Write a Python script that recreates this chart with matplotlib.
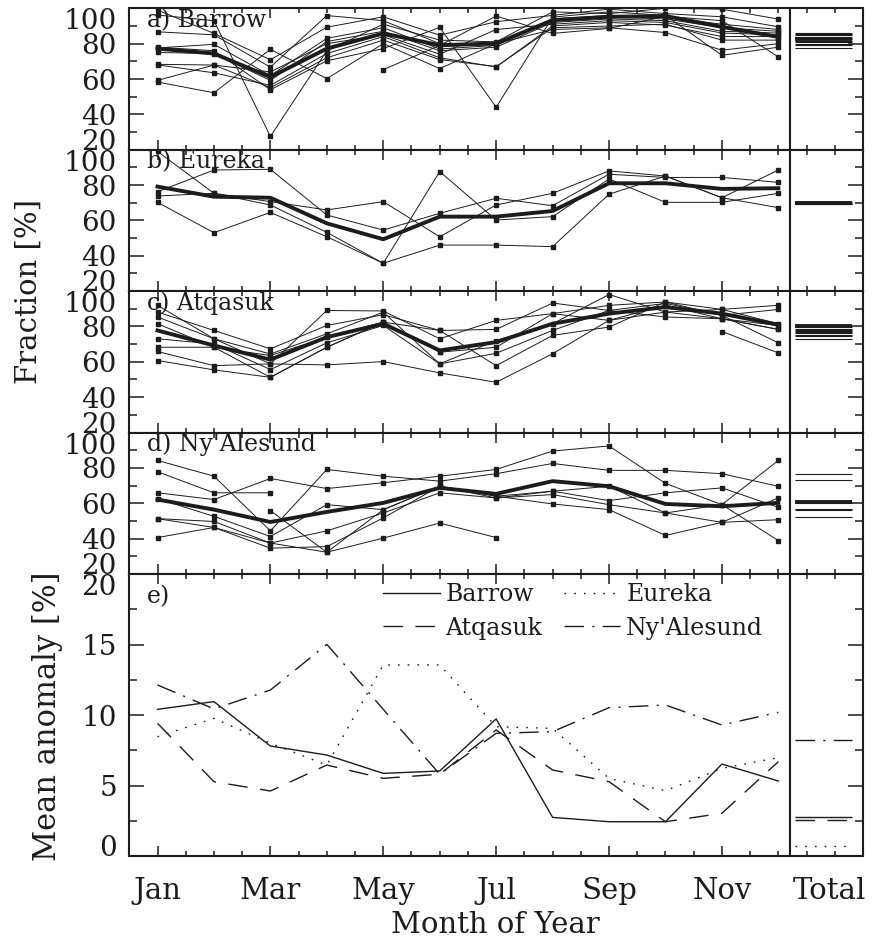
"""Monthly cloud fraction per station and mean anomalies, with annual totals."""

import numpy as np
from matplotlib import pyplot as plt
from matplotlib.ticker import FixedLocator, MultipleLocator

plt.rcParams['font.family'] = 'DejaVu Serif'

nan = np.nan
months = np.arange(1, 13)
month_ticks = [1, 3, 5, 7, 9, 11]
month_labels = ['Jan', 'Mar', 'May', 'Jul', 'Sep', 'Nov']
fraction_ticks = [20, 40, 60, 80, 100]
anomaly_ticks = [0, 5, 10, 15, 20]

# a) Barrow, single years and multi-year mean [%]
barrow_years = [
    [99.0, 85.8, 70.9, 89.3, 95.2, 84.8, 92.4, 96.0, 99.5, 97.0, 95.2, 89.5],
    [96.2, 93.0, 27.5, 76.0, 91.0, 82.0, 81.0, 98.0, 97.0, 100.0, 99.5, 93.9],
    [86.7, 85.0, 66.7, 95.9, 93.0, 80.0, 80.0, 94.0, 96.0, 95.0, 91.0, 88.0],
    [77.6, 79.6, 62.0, 83.0, 89.0, 77.0, 79.0, 93.0, 95.0, 94.0, 89.0, 87.0],
    [75.0, 74.4, 59.2, 81.2, 87.0, 76.0, 78.0, 92.0, 94.0, 93.0, 87.0, 86.0],
    [68.3, 67.9, 64.0, 80.0, 85.0, 74.0, 88.0, 91.0, 93.0, 92.0, 86.0, 85.0],
    [68.0, 63.5, 56.4, 74.4, 84.0, 72.0, 66.8, 90.0, 92.0, 90.5, 84.0, 84.0],
    [59.2, 67.9, 55.1, 72.0, 82.0, 71.0, 67.0, 89.0, 90.0, 91.0, 82.0, 82.0],
    [58.3, 52.2, 76.8, 60.2, 80.0, 65.9, 80.0, 88.0, 89.0, 86.3, 76.3, 80.0],
    [78.0, 76.0, 53.9, 70.3, 77.2, 89.2, 44.0, 95.0, 98.0, 96.0, 73.4, 78.0],
    [nan, nan, nan, nan, 65.3, 79.0, 95.6, 85.8, 88.6, 95.5, 93.0, 72.5],
]
barrow_mean = [77.2, 74.4, 61.1, 77.2, 85.8, 79.1, 80.1, 93.3, 95.2, 95.6, 89.5, 83.8]
barrow_total = [86.3, 85.5, 84.7, 83.9, 83.2, 82.4, 81.6, 80.8, 80.0, 79.0, 77.8]
barrow_total_mean = 82.5

# b) Eureka
eureka_years = [
    [99.0, 75.3, 70.6, 65.9, 70.6, 50.7, 68.7, 75.3, 88.0, 85.1, 72.8, 88.5],
    [76.2, 88.5, 88.9, 63.0, 54.5, 64.0, 72.5, 68.3, 86.1, 84.3, 84.3, 81.5],
    [73.8, 75.3, 68.7, 53.2, 35.7, 87.6, 60.2, 62.1, 83.4, 70.2, 70.2, 75.3],
    [70.2, 53.0, 64.5, 50.7, 35.7, 46.0, 46.0, 45.1, 74.8, 85.1, 72.8, 67.2],
]
eureka_mean = [79.1, 73.4, 72.8, 58.3, 49.3, 62.1, 62.1, 65.3, 81.0, 81.0, 77.8, 78.2]
eureka_total = [70.2, 69.9, 69.5, 69.2]
eureka_total_mean = 69.7

# c) Atqasuk
atqasuk_years = [
    [91.9, 73.0, 58.8, 89.0, 88.7, 73.0, 83.4, 87.2, 91.9, 93.8, 89.6, 91.9],
    [88.1, 77.7, 67.3, 80.5, 86.6, 77.7, 78.3, 93.2, 89.0, 93.0, 86.2, 89.6],
    [85.3, 73.0, 64.4, 75.8, 88.0, 58.8, 72.0, 81.5, 98.0, 88.1, 89.6, 81.5],
    [81.5, 68.2, 63.5, 73.9, 82.4, 65.4, 68.2, 87.2, 83.4, 92.0, 84.3, 80.5],
    [73.0, 70.0, 55.6, 70.7, 80.5, 58.8, 64.8, 77.7, 89.0, 85.3, 84.3, 78.3],
    [68.2, 68.2, 51.2, 68.2, 82.4, 77.7, 57.8, 74.9, 79.6, 93.8, 86.2, 70.7],
    [65.8, 57.8, 58.8, 58.2, 60.1, 53.7, 48.4, 64.5, 83.4, 88.1, 84.3, 78.3],
    [60.7, 55.4, 51.2, 68.2, 82.4, 65.4, nan, nan, nan, nan, 77.1, 65.0],
]
atqasuk_mean = [77.7, 69.2, 61.2, 73.9, 81.5, 66.4, 71.1, 81.5, 87.2, 90.9, 87.2, 80.9]
atqasuk_total = [79.4, 78.7, 78.0, 77.4, 76.8, 76.1, 75.3, 74.4, 73.1]
atqasuk_total_mean = 80.4

# d) Ny'Alesund
nyalesund_years = [
    [84.2, 75.3, 44.4, 79.1, 75.3, 72.5, 76.7, 82.5, 78.6, 78.6, 76.7, 69.6],
    [77.8, 65.9, 65.9, nan, nan, nan, nan, nan, nan, nan, nan, nan],
    [65.9, 62.1, 74.0, 68.3, 71.6, 75.3, 79.1, 89.5, 92.4, 71.2, 59.2, 84.2],
    [62.6, 52.6, 41.2, 59.2, 56.4, 69.6, 64.0, 66.8, 61.5, 65.9, 68.7, 57.7],
    [51.3, 49.7, 37.5, 44.4, 54.5, 65.9, 63.0, 64.9, 59.2, 54.5, 49.2, 63.0],
    [51.3, 46.3, 34.6, 35.5, 51.7, 69.6, 64.0, 59.6, 56.4, 41.8, 49.2, 50.7],
    [40.6, 46.3, 37.5, 32.3, 40.3, 48.8, 40.6, nan, nan, nan, nan, nan],
    [nan, nan, 55.8, 32.3, 56.4, 69.6, 63.0, 66.8, 69.6, 54.5, 59.2, 38.9],
]
nyalesund_mean = [62.1, 56.4, 49.4, 55.1, 60.2, 68.7, 65.3, 72.5, 69.6, 59.6, 58.3, 60.2]
nyalesund_total = [76.3, 73.4, 60.4, 56.8, 56.1, 52.2]
nyalesund_total_mean = 60.8

# e) mean anomaly [%]
anom_barrow = [10.4, 10.95, 7.8, 7.16, 5.86, 6.03, 9.72, 2.74, 2.43, 2.43, 6.52, 5.32]
anom_eureka = [8.46, 9.76, 8.0, 6.45, 13.55, 13.55, 9.17, 9.05, 5.5, 4.63, 6.22, 6.97]
anom_atqasuk = [9.41, 5.27, 4.61, 6.45, 5.51, 5.8, 8.94, 6.1, 5.27, 2.43, 3.03, 6.69]
anom_nyalesund = [12.13, 10.43, 11.77, 15.01, 10.4, 5.8, 8.7, 8.82, 10.52, 10.71, 9.29, 10.19]
anom_total = {'Barrow': 2.79, 'Eureka': 0.71, 'Atqasuk': 2.55, "Ny'Alesund": 8.23}

ink = '#1c1c1c'
W, H = 874, 941
x_left, x_right = 129.3, 863.0
rows = [8.3, 149.7, 291.0, 432.5, 574.0, 856.0]
x_split = 12.2
total_x = (12.3, 13.3)
total_tick = 12.9

fig = plt.figure(figsize=(W / 100, H / 100), dpi=100)


def make_axes(top, bottom):
    ax = fig.add_axes([x_left / W, 1 - bottom / H, (x_right - x_left) / W, (bottom - top) / H])
    ax.set_xlim(0.5, 13.5)
    ax.xaxis.set_major_locator(FixedLocator(month_ticks))
    ax.xaxis.set_minor_locator(MultipleLocator(0.5))
    ax.tick_params(which='both', direction='in', top=True, right=True, color=ink, width=1.1)
    ax.tick_params(axis='x', which='major', length=7)
    ax.tick_params(axis='x', which='minor', length=3.5)
    ax.tick_params(axis='y', which='major', length=10.5, labelsize=20, pad=9, labelcolor=ink)
    ax.tick_params(axis='y', which='minor', length=5.5)
    for spine in ax.spines.values():
        spine.set_linewidth(1.5)
        spine.set_color(ink)
    ax.axvline(x_split, color=ink, lw=1.5)
    return ax


def nudge_end_labels(ax):
    labels = ax.get_yticklabels()
    labels[0].set_va('baseline')
    labels[-1].set_va('top')


stations = [
    ('a) Barrow', barrow_years, barrow_mean, barrow_total, barrow_total_mean),
    ('b) Eureka', eureka_years, eureka_mean, eureka_total, eureka_total_mean),
    ('c) Atqasuk', atqasuk_years, atqasuk_mean, atqasuk_total, atqasuk_total_mean),
    ("d) Ny'Alesund", nyalesund_years, nyalesund_mean, nyalesund_total, nyalesund_total_mean),
]

for i, (name, years, mean, total, total_mean) in enumerate(stations):
    ax = make_axes(rows[i], rows[i + 1])
    for year in years:
        ax.plot(months, year, color=ink, lw=0.7, marker='s', ms=2.2)
    ax.plot(months, mean, color=ink, lw=2.8)
    ax.hlines(total, *total_x, color=ink, lw=0.8)
    ax.hlines(total_mean, *total_x, color=ink, lw=2.8)
    ax.set_ylim(20, 100)
    ax.set_yticks(fraction_ticks, [str(t) for t in fraction_ticks])
    ax.yaxis.set_minor_locator(MultipleLocator(10))
    ax.set_xticklabels([])
    nudge_end_labels(ax)
    ax.text(0.82, 0.867 * 80 + 20, name, fontsize=17, color=ink, va='baseline')

# e) anomalies
ax = make_axes(rows[4], rows[5])
styles = {
    'Barrow': (anom_barrow, '-'),
    'Eureka': (anom_eureka, (0, (1.2, 5.8))),
    'Atqasuk': (anom_atqasuk, (0, (14, 9))),
    "Ny'Alesund": (anom_nyalesund, (0, (14, 6, 1.5, 6))),
}
for label in ['Barrow', 'Atqasuk', 'Eureka', "Ny'Alesund"]:
    values, ls = styles[label]
    ax.plot(months, values, color=ink, lw=1.0, ls=ls, label=label)
    ax.hlines(anom_total[label], *total_x, color=ink, lw=1.0, ls=ls)
ax.set_ylim(0, 20)
ax.set_yticks(anomaly_ticks, [str(t) for t in anomaly_ticks])
ax.yaxis.set_minor_locator(MultipleLocator(2.5))
nudge_end_labels(ax)

# month names plus the annual "Total" column, which carries no tick mark
ax.set_xticks(month_ticks + [total_tick], month_labels + ['Total'])
ax.tick_params(axis='x', labelsize=21, pad=15, labelcolor=ink)
total_tick_obj = ax.xaxis.get_major_ticks()[-1]
total_tick_obj.tick1line.set_visible(False)
total_tick_obj.tick2line.set_visible(False)

ax.text(0.82, 0.897 * 20, 'e)', fontsize=17, color=ink, va='baseline')
ax.legend(ncol=2, loc='upper left', bbox_to_anchor=(0.3458, 0.968), frameon=False,
          handlelength=2.4, handletextpad=0.25, columnspacing=0.9, labelspacing=0.45,
          borderpad=0, borderaxespad=0, fontsize=17, labelcolor=ink)

fig.text(29 / W, 1 - 291 / H, 'Fraction [%]', rotation=90, ha='center', va='center',
         fontsize=21, color=ink)
fig.text(48 / W, 1 - 716 / H, 'Mean anomaly [%]', rotation=90, ha='center', va='center',
         fontsize=22, color=ink)
fig.text(495 / W, 1 - 933 / H, 'Month of Year', ha='center', va='baseline',
         fontsize=21, color=ink)

fig.savefig('out.png', dpi=100)
